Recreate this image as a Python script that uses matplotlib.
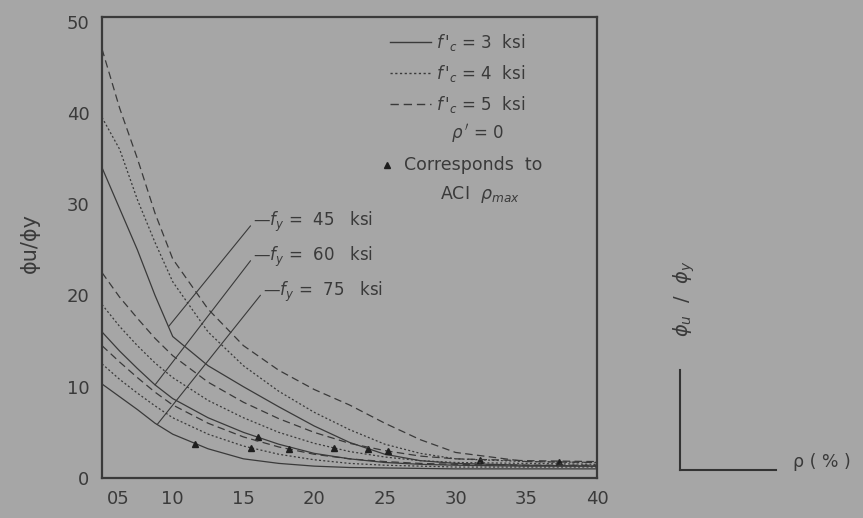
import matplotlib
matplotlib.use("Agg")
import matplotlib.pyplot as plt
import matplotlib.transforms as mtransforms
from matplotlib.lines import Line2D
import numpy as np

# ductility ratio vs. tension steel ratio, rho' = 0
p = [0.5, 0.625, 0.75, 0.875, 1.0, 1.25, 1.5, 1.75, 2.0, 2.25, 2.5, 2.75, 3.0, 3.5, 4.0]

# fy = 45 ksi
fy45_fc3 = [34.0, 29.5, 25.0, 20.0, 15.5, 12.3, 10.0, 7.8, 5.7, 3.9, 2.6, 1.9, 1.6, 1.4, 1.3]
fy45_fc4 = [39.5, 36.0, 30.5, 25.8, 21.5, 16.0, 12.3, 9.5, 7.2, 5.3, 3.7, 2.7, 2.1, 1.8, 1.7]
fy45_fc5 = [47.0, 40.5, 35.0, 29.0, 24.0, 18.5, 14.5, 11.8, 9.7, 8.0, 6.0, 4.2, 2.8, 1.8, 1.7]
# fy = 60 ksi
fy60_fc3 = [16.0, 13.9, 12.0, 10.2, 8.7, 6.6, 5.0, 3.7, 2.7, 2.1, 1.7, 1.5, 1.4, 1.3, 1.3]
fy60_fc4 = [19.0, 16.6, 14.5, 12.6, 11.0, 8.5, 6.6, 5.0, 3.8, 2.9, 2.3, 1.9, 1.7, 1.6, 1.5]
fy60_fc5 = [22.5, 19.8, 17.5, 15.3, 13.4, 10.5, 8.3, 6.5, 5.0, 3.8, 3.0, 2.4, 2.1, 1.9, 1.8]
# fy = 75 ksi
fy75_fc3 = [10.3, 8.9, 7.5, 6.0, 4.8, 3.2, 2.1, 1.6, 1.3, 1.15, 1.1, 1.05, 1.0, 1.0, 1.0]
fy75_fc4 = [12.5, 10.8, 9.3, 7.9, 6.6, 4.8, 3.5, 2.6, 2.0, 1.6, 1.4, 1.3, 1.2, 1.2, 1.2]
fy75_fc5 = [14.5, 12.7, 11.0, 9.4, 8.0, 6.0, 4.5, 3.4, 2.6, 2.1, 1.8, 1.6, 1.5, 1.4, 1.4]

# ACI rho_max (%) for each curve, same order as the curve lists below
rho_max = [2.38, 3.17, 3.73, 1.60, 2.14, 2.52, 1.16, 1.55, 1.82]

curves = [fy45_fc3, fy45_fc4, fy45_fc5,
          fy60_fc3, fy60_fc4, fy60_fc5,
          fy75_fc3, fy75_fc4, fy75_fc5]

fc_labels = ["$f\\,'_c$ = 3  ksi", "$f\\,'_c$ = 4  ksi", "$f\\,'_c$ = 5  ksi"]
fy_labels = ["—$f_y$ =  45   ksi", "—$f_y$ =  60   ksi", "—$f_y$ =  75   ksi"]
fy_label_pos = [(1.57, 28.0), (1.57, 24.2), (1.64, 20.4)]
fy_leader_end = [0.97, 0.875, 0.89]

xtick_vals = [0.5, 1.0, 1.5, 2.0, 2.5, 3.0, 3.5, 4.0]
xtick_text = ["05", "10", "15", "20", "25", "30", "35", "40"]
ytick_vals = [0, 10, 20, 30, 40, 50]

bg = "#a6a6a6"
ink = "#3a3a3a"
styles = ["-", (0, (1.6, 1.8)), (0, (6, 3.5))]

fig = plt.figure(figsize=(8.63, 5.18), dpi=100, facecolor=bg)
ax = fig.add_axes([102 / 863, 1 - 478 / 518, 495 / 863, 461 / 518])
ax.set_facecolor(bg)

for i, c in enumerate(curves):
    ax.plot(p, c, color=ink, lw=0.9, linestyle=styles[i % 3])
    ax.plot(rho_max[i], np.interp(rho_max[i], p, c), marker="^",
            ms=4.5, color="#1e1e1e", linestyle="none")

# fy labels with leader lines down to the 3 ksi curve of each group
for k in range(3):
    c = curves[3 * k]
    xe = fy_leader_end[k]
    ax.annotate(fy_labels[k], xy=(xe, np.interp(xe, p, c)),
                xytext=fy_label_pos[k], ha="left", va="center",
                fontsize=12, color=ink,
                arrowprops=dict(arrowstyle="-", relpos=(0, 0.5),
                                shrinkA=0, shrinkB=0, lw=0.8, color=ink))

handles = [Line2D([], [], color=ink, lw=1.0, linestyle=s) for s in styles]
leg = ax.legend(handles, fc_labels, loc="upper left",
                bbox_to_anchor=(0.552, 1.0), frameon=False,
                fontsize=12, handlelength=2.45, handletextpad=0.3,
                labelspacing=0.6, labelcolor=ink)

ax.text(0.758, 0.748, "$\\rho\\,'$ = 0", transform=ax.transAxes,
        ha="center", va="center", fontsize=12, color=ink)
ax.plot([0.576], [0.679], marker="^", ms=4.5, color="#1e1e1e",
        transform=ax.transAxes)
ax.text(0.61, 0.679, "Corresponds  to", transform=ax.transAxes,
        ha="left", va="center", fontsize=12.5, color=ink)
ax.text(0.764, 0.615, "ACI  $\\rho_{max}$", transform=ax.transAxes,
        ha="center", va="center", fontsize=12.5, color=ink)

ax.set_xlim(0.5, 4.0)
ax.set_ylim(0, 50.5)
ax.set_xticks(xtick_vals)
ax.set_xticklabels(xtick_text)
ax.set_yticks(ytick_vals)
ax.tick_params(length=0, labelsize=13, colors=ink)
ax.tick_params(axis="y", pad=9)
ax.tick_params(axis="x", pad=9)
# first x label sits clear of the spine
first = ax.get_xticklabels()[0]
first.set_transform(first.get_transform() +
                    mtransforms.ScaledTranslation(16 / 100, 0, fig.dpi_scale_trans))

for s in ax.spines.values():
    s.set_color("#3a3a3a")
    s.set_linewidth(1.6)

ax.set_ylabel("ϕu/ϕy", fontsize=15, color=ink)
ax.yaxis.set_label_coords(-0.125, 0.51)

# small axis key on the right
ax2 = fig.add_axes([680 / 863, 1 - 470 / 518, 96 / 863, 100 / 518])
ax2.set_facecolor(bg)
ax2.patch.set_alpha(0)
for name in ["top", "right"]:
    ax2.spines[name].set_visible(False)
for name in ["left", "bottom"]:
    ax2.spines[name].set_color("#333333")
    ax2.spines[name].set_linewidth(1.5)
ax2.set_xticks([])
ax2.set_yticks([])
ax2.set_ylabel("$\\phi_u\\ \\ /\\ \\ \\phi_y$", fontsize=14, color=ink)
ax2.yaxis.set_label_coords(0.18, 1.72)
ax2.text(1.18, 0.08, "ρ ( % )", transform=ax2.transAxes, ha="left",
         va="center", fontsize=12.5, color=ink)

fig.savefig("out.png", dpi=100, facecolor=bg)
